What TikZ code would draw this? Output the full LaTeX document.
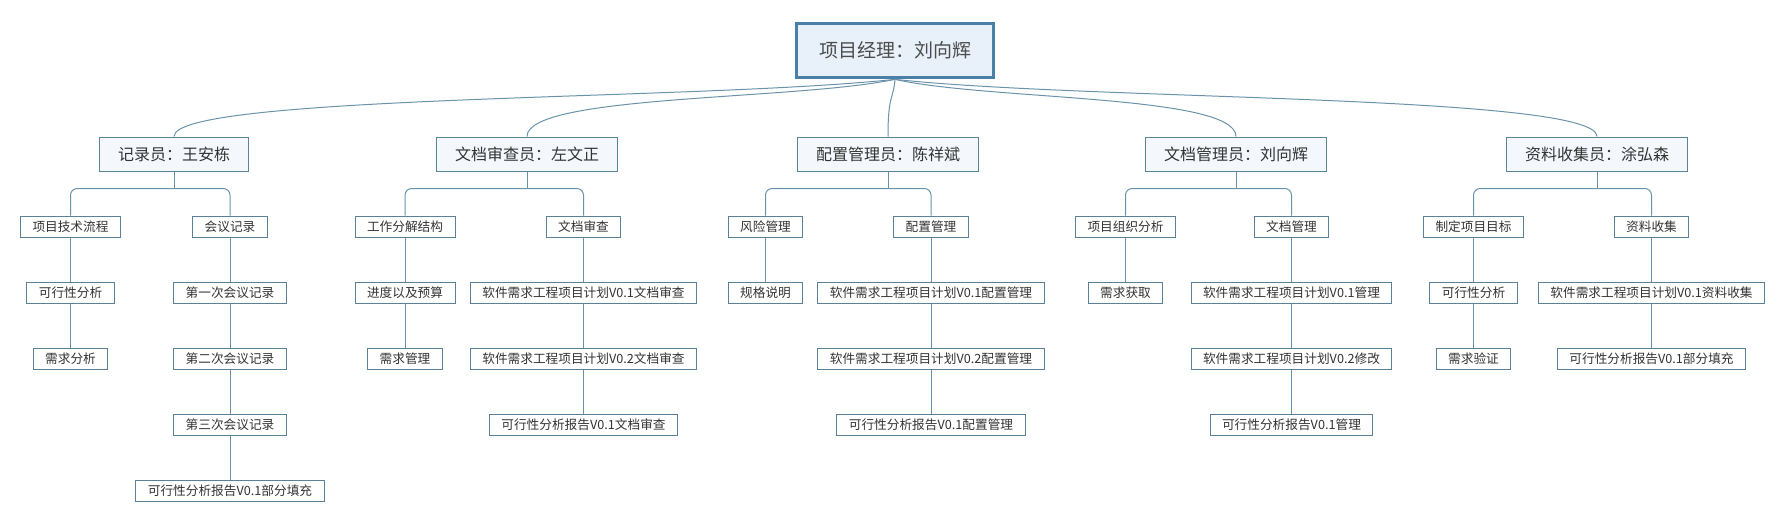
\documentclass[tikz,border=0pt]{standalone}
\usepackage{fontspec}
\setmainfont{Noto Sans CJK SC}
\usetikzlibrary{calc}

\definecolor{rootline}{HTML}{4A7FA8}
\definecolor{rootfill}{HTML}{E8F1FA}
\definecolor{roleline}{HTML}{5A8498}
\definecolor{rolefill}{HTML}{F4F8FC}
\definecolor{taskline}{HTML}{5A8196}
\definecolor{linkblue}{HTML}{6A93AB}
\definecolor{textgray}{HTML}{333333}

\begin{document}
\begin{tikzpicture}[x=0.75pt,y=-0.75pt,
  rootbox/.style={draw=rootline, fill=rootfill, line width=2.25pt,
    inner xsep=17pt, inner ysep=0pt, minimum height=41pt,
    font=\fontsize{14.25pt}{16pt}\selectfont, text=black!70},
  rolebox/.style={draw=roleline, fill=rolefill, line width=0.75pt,
    inner xsep=14pt, inner ysep=0pt, minimum height=25.5pt,
    font=\fontsize{12pt}{14pt}\selectfont, text=textgray},
  taskbox/.style={draw=taskline, fill=white, line width=0.75pt,
    inner xsep=9pt, inner ysep=0pt, minimum height=15.75pt,
    font=\fontsize{9.5pt}{11pt}\selectfont, text=textgray},
  link/.style={draw=linkblue, line width=0.75pt},
]

\newcommand\RoleY{154}
\newcommand\RowA{226.5}
\newcommand\RowB{292.5}
\newcommand\RowC{358.5}
\newcommand\RowD{424.5}
\newcommand\RowE{490.5}

\useasboundingbox (0,0) rectangle (1789,522);

%% root
\node[rootbox] (pm) at (895,50.5) {项目经理：刘向辉};

%% roles
\node[rolebox] (rec) at (174,\RoleY)  {记录员：王安栋};
\node[rolebox] (rev) at (527,\RoleY)  {文档审查员：左文正};
\node[rolebox] (cfg) at (888,\RoleY)  {配置管理员：陈祥斌};
\node[rolebox] (doc) at (1236,\RoleY) {文档管理员：刘向辉};
\node[rolebox] (col) at (1597,\RoleY) {资料收集员：涂弘森};

%% 记录员
\node[taskbox] (recA)  at (70.5,\RowA) {项目技术流程};
\node[taskbox] (recA1) at (70.5,\RowB) {可行性分析};
\node[taskbox] (recA2) at (70.5,\RowC) {需求分析};
\node[taskbox] (recB)  at (230,\RowA)  {会议记录};
\node[taskbox] (recB1) at (230,\RowB)  {第一次会议记录};
\node[taskbox] (recB2) at (230,\RowC)  {第二次会议记录};
\node[taskbox] (recB3) at (230,\RowD)  {第三次会议记录};
\node[taskbox] (recB4) at (230,\RowE)  {可行性分析报告V0.1部分填充};

%% 文档审查员
\node[taskbox] (revA)  at (405,\RowA) {工作分解结构};
\node[taskbox] (revA1) at (405,\RowB) {进度以及预算};
\node[taskbox] (revA2) at (405,\RowC) {需求管理};
\node[taskbox] (revB)  at (583.5,\RowA) {文档审查};
\node[taskbox] (revB1) at (583.5,\RowB) {软件需求工程项目计划V0.1文档审查};
\node[taskbox] (revB2) at (583.5,\RowC) {软件需求工程项目计划V0.2文档审查};
\node[taskbox] (revB3) at (583.5,\RowD) {可行性分析报告V0.1文档审查};

%% 配置管理员
\node[taskbox] (cfgA)  at (765.5,\RowA) {风险管理};
\node[taskbox] (cfgA1) at (765.5,\RowB) {规格说明};
\node[taskbox] (cfgB)  at (931,\RowA) {配置管理};
\node[taskbox] (cfgB1) at (931,\RowB) {软件需求工程项目计划V0.1配置管理};
\node[taskbox] (cfgB2) at (931,\RowC) {软件需求工程项目计划V0.2配置管理};
\node[taskbox] (cfgB3) at (931,\RowD) {可行性分析报告V0.1配置管理};

%% 文档管理员
\node[taskbox] (docA)  at (1125.5,\RowA) {项目组织分析};
\node[taskbox] (docA1) at (1125.5,\RowB) {需求获取};
\node[taskbox] (docB)  at (1291.5,\RowA) {文档管理};
\node[taskbox] (docB1) at (1291.5,\RowB) {软件需求工程项目计划V0.1管理};
\node[taskbox] (docB2) at (1291.5,\RowC) {软件需求工程项目计划V0.2修改};
\node[taskbox] (docB3) at (1291.5,\RowD) {可行性分析报告V0.1管理};

%% 资料收集员
\node[taskbox] (colA)  at (1473.5,\RowA) {制定项目目标};
\node[taskbox] (colA1) at (1473.5,\RowB) {可行性分析};
\node[taskbox] (colA2) at (1473.5,\RowC) {需求验证};
\node[taskbox] (colB)  at (1651.5,\RowA) {资料收集};
\node[taskbox] (colB1) at (1651.5,\RowB) {软件需求工程项目计划V0.1资料收集};
\node[taskbox] (colB2) at (1651.5,\RowC) {可行性分析报告V0.1部分填充};

%% root -> roles
\foreach \c in {rec,rev,cfg,doc,col}
  \draw[link] (pm.south)
    .. controls ($(pm.south)!0.27!(pm.south -| \c.north)+(0,21)$)
    and ($(\c.north)+(0,-42)$) .. (\c.north);

%% roles -> first tasks
\foreach \p/\a/\b in {rec/recA/recB, rev/revA/revB, cfg/cfgA/cfgB,
                      doc/docA/docB, col/colA/colB} {
  \coordinate (\p-j) at ($(\p.south)+(0,17)$);
  \draw[link] (\p.south) -- (\p-j);
  \draw[link, rounded corners=5pt] (\a.north) |- (\p-j) -| (\b.north);
}

%% task chains
\foreach \a/\b in {recA/recA1, recA1/recA2,
                   recB/recB1, recB1/recB2, recB2/recB3, recB3/recB4,
                   revA/revA1, revA1/revA2,
                   revB/revB1, revB1/revB2, revB2/revB3,
                   cfgA/cfgA1,
                   cfgB/cfgB1, cfgB1/cfgB2, cfgB2/cfgB3,
                   docA/docA1,
                   docB/docB1, docB1/docB2, docB2/docB3,
                   colA/colA1, colA1/colA2,
                   colB/colB1, colB1/colB2}
  \draw[link] (\a.south) -- (\b.north);

\end{tikzpicture}
\end{document}
